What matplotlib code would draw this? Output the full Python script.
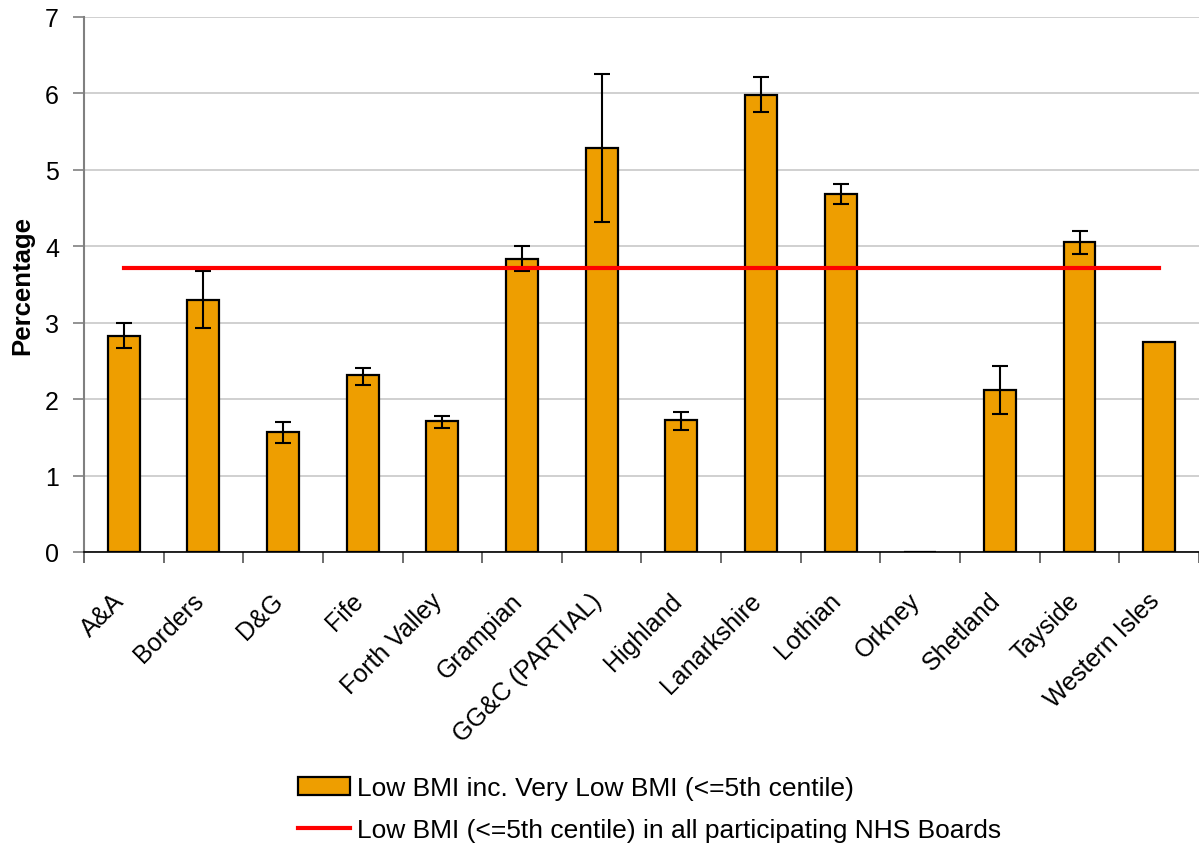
import matplotlib
matplotlib.use("Agg")
import matplotlib.pyplot as plt
import matplotlib.transforms as mtransforms
import numpy as np

plt.rcParams['font.family'] = ['Liberation Sans', 'DejaVu Sans']

## ------------ data -----------
boards = ['A&A', 'Borders', 'D&G', 'Fife', 'Forth Valley', 'Grampian',
          'GG&C (PARTIAL)', 'Highland', 'Lanarkshire', 'Lothian', 'Orkney',
          'Shetland', 'Tayside', 'Western Isles']
low_bmi = [2.83, 3.30, 1.57, 2.31, 1.71, 3.83, 5.29, 1.73, 5.98, 4.69, 0.0,
           2.12, 4.06, 2.75]
ci_low = [2.67, 2.93, 1.42, 2.18, 1.62, 3.67, 4.32, 1.60, 5.76, 4.55, 0.0,
          1.81, 3.90, 2.75]
ci_high = [2.99, 3.67, 1.70, 2.41, 1.78, 4.01, 6.26, 1.83, 6.21, 4.82, 0.0,
           2.43, 4.20, 2.75]
all_boards = 3.72

## ------------ plot -----------
fig = plt.figure(figsize=(11.99, 8.45), dpi=100)
ax = fig.add_axes([0.070, 0.3456, 0.930, 0.6331])

pos = np.arange(len(boards))
vals = np.array(low_bmi)
yerr = [vals - np.array(ci_low), np.array(ci_high) - vals]
has_err = (yerr[0] + yerr[1]) > 0

bars = ax.bar(pos, vals, width=0.4, color='#EE9E00', edgecolor='black', linewidth=1.6,
              zorder=2)
ax.errorbar(pos[has_err], vals[has_err], yerr=[yerr[0][has_err], yerr[1][has_err]],
            fmt='none', ecolor='black', elinewidth=1.5, capsize=6, capthick=1.5, zorder=3)
line, = ax.plot(pos, [all_boards] * len(boards), color='#FF0000', linewidth=3, zorder=4)

ax.set_xlim(-0.5, len(boards) - 0.5)
ax.set_ylim(0, 7)
ax.set_yticks(range(0, 8))
ax.yaxis.grid(True, linestyle='-', color='#C8C8C8', linewidth=1.2, zorder=0)
ax.set_axisbelow(True)

# category labels at bar centres, tick marks between categories
ax.set_xticks(pos)
ax.set_xticks(np.arange(-0.5, len(boards)), minor=True)
ax.tick_params(axis='x', which='major', length=0, pad=26)
ax.tick_params(axis='x', which='minor', length=8, width=1.2, direction='out', color='#555555')
ax.tick_params(axis='y', labelsize=18, length=8, width=1.2, color='#808080', pad=10)
ax.set_xticklabels(boards, rotation=45, ha='right', va='top', rotation_mode='anchor',
                   fontsize=18)
shift = mtransforms.ScaledTranslation(-0.12, 0, fig.dpi_scale_trans)
for lab in ax.get_xticklabels():
    lab.set_transform(lab.get_transform() + shift)

ax.set_ylabel('Percentage', fontsize=18.5, fontweight='bold', labelpad=8)

for s in ['top', 'right']:
    ax.spines[s].set_visible(False)
ax.spines['left'].set_color('#808080')
ax.spines['left'].set_linewidth(1.5)
ax.spines['bottom'].set_color('black')
ax.spines['bottom'].set_linewidth(1.2)

ax.legend([bars, line],
          ['Low BMI inc. Very Low BMI (<=5th centile)',
           'Low BMI (<=5th centile) in all participating NHS Boards'],
          loc='upper center', bbox_to_anchor=(0.507, -0.375), ncol=1, frameon=False,
          fontsize=19, handlelength=2.0, handletextpad=0.25, labelspacing=0.68)

fig.savefig('out.png', dpi=100)
